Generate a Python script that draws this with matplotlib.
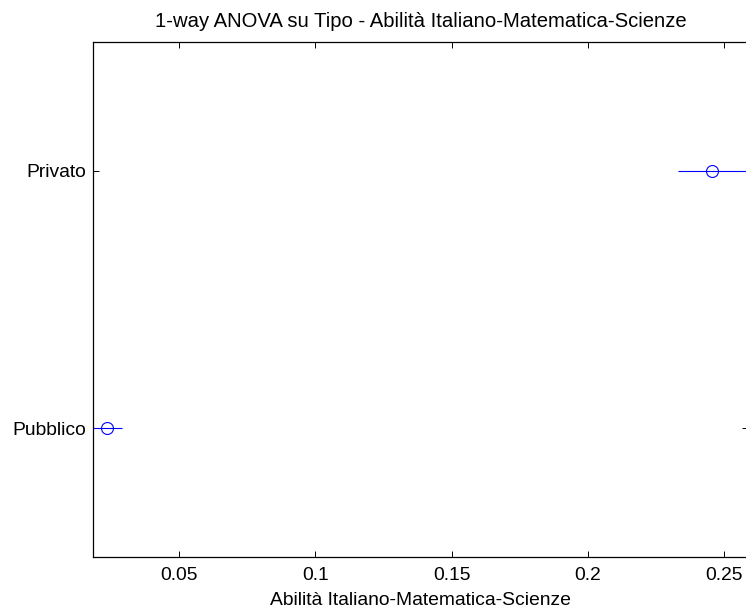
import matplotlib
matplotlib.use("Agg")
import matplotlib.pyplot as plt

groups = ["Privato", "Pubblico"]
means = [0.2456, 0.0235]
half_widths = [0.0127, 0.0055]
xticks = [0.05, 0.1, 0.15, 0.2, 0.25]
xtick_labels = ["0.05", "0.1", "0.15", "0.2", "0.25"]

plt.rcParams["font.family"] = ["Liberation Sans", "DejaVu Sans"]

W, H = 746, 609
fig = plt.figure(figsize=(W / 100, H / 100), dpi=100)
left, right, top, bottom = 93, 748, 42, 557
ax = fig.add_axes([left / W, 1 - bottom / H, (right - left) / W, (bottom - top) / H])

n = len(groups)
ypos = [n - i for i in range(n)]
for y, m, hw in zip(ypos, means, half_widths):
    ax.plot([m - hw, m + hw], [y, y], color="blue", lw=0.8, solid_capstyle="butt")
    ax.plot([m], [y], marker="o", mfc="none", mec="blue", ms=8.6, mew=0.8, ls="none")

fs = 13.9
ax.set_xlim(0.0185, 0.0185 + (right - left) / 2727.0)
ax.set_ylim(0.5, n + 0.5)
ax.set_yticks(ypos)
ax.set_yticklabels(groups, fontsize=fs)
ax.set_xticks(xticks)
ax.set_xticklabels(xtick_labels, fontsize=fs)
ax.tick_params(direction="in", length=4.5, width=0.7, top=True, right=True)
ax.tick_params(axis="x", pad=7)
ax.tick_params(axis="y", pad=5)
for s in ax.spines.values():
    s.set_linewidth(0.9)

ax.set_title("1-way ANOVA su Tipo - Abilità Italiano-Matematica-Scienze", fontsize=14.6, pad=11)
ax.set_xlabel("Abilità Italiano-Matematica-Scienze", fontsize=fs, labelpad=6)

fig.savefig("out.png", dpi=100)
